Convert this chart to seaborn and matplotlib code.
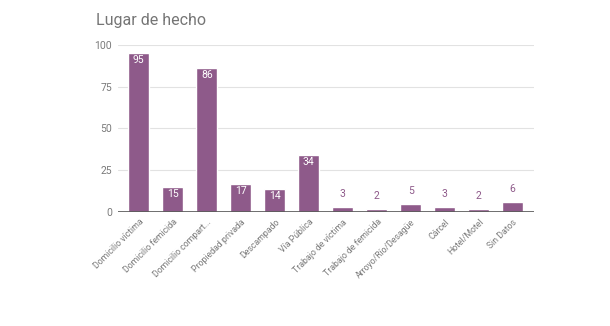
import matplotlib
matplotlib.use("Agg")
import matplotlib.pyplot as plt
import seaborn as sns
import pandas as pd

categories = [
    "Domicilio víctima", "Domicilio femicida", "Domicilio compart...",
    "Propiedad privada", "Descampado", "Vía Pública", "Trabajo de víctima",
    "Trabajo de femicida", "Arroyo/Río/Desagüe", "Cárcel", "Hotel/Motel",
    "Sin Datos",
]
values = [95, 15, 86, 17, 14, 34, 3, 2, 5, 3, 2, 6]
yticks = [0, 25, 50, 75, 100]

bar_color = "#8e5a8a"
grey = "#7a7a7a"

sns.set_theme(style="white")
plt.rcParams["font.family"] = ["Roboto", "DejaVu Sans"]

df = pd.DataFrame({"Lugar": categories, "Casos": values})

fig = plt.figure(figsize=(6.1, 3.26), dpi=100)
ax = fig.add_axes([0.193, 0.350, 0.682, 0.512])

sns.barplot(data=df, x="Lugar", y="Casos", color=bar_color, width=0.62,
            saturation=1, ax=ax, zorder=3)

ax.set_ylim(0, 100)
ax.set_xlim(-0.62, len(categories) - 0.38)
ax.set_yticks(yticks)
ax.set_yticklabels([str(t) for t in yticks], color=grey, fontsize=7.5)
for t in yticks[1:]:
    ax.axhline(t, color="#e2e2e2", lw=0.8, zorder=1)
ax.axhline(0, color="#555555", lw=1.2, zorder=4)

ax.set_xticks(range(len(categories)))
ax.set_xticklabels(categories, rotation=45, ha="right", rotation_mode="anchor",
                   color=grey, fontsize=6.3)
ax.tick_params(axis="both", length=0, pad=4)
ax.set_xlabel("")
ax.set_ylabel("")
for s in ax.spines.values():
    s.set_visible(False)

for i, v in enumerate(values):
    if v >= 10:
        ax.text(i, v - 1.2, str(v), ha="center", va="top", color="white",
                fontsize=7.5, zorder=5)
    else:
        ax.text(i, v + 4.5, str(v), ha="center", va="bottom", color=bar_color,
                fontsize=7.5, zorder=5)

fig.text(0.157, 0.915, "Lugar de hecho", fontsize=11.5, color="#757575",
         ha="left", va="bottom")

fig.savefig("out.png", dpi=100)
